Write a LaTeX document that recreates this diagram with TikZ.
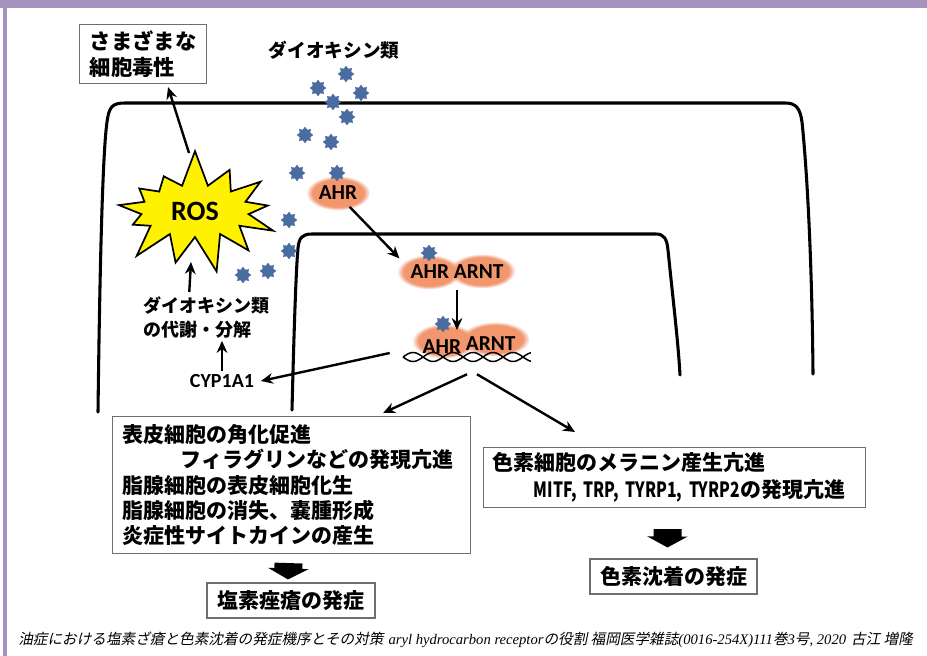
\documentclass[tikz,border=0pt]{standalone}
\usepackage{fontspec}
\usepackage{graphicx}
\newfontfamily\jpfont{Noto Sans CJK JP}
\newfontfamily\jpnarrow{Noto Sans CJK JP}[FakeStretch=0.75]
\newfontfamily\jpslant{Noto Sans CJK JP}[FakeSlant=0.2]
\newfontfamily\carlito{Carlito}
\newfontfamily\serifit{Liberation Serif}
\usetikzlibrary{arrows.meta,shapes.geometric,shapes.symbols,fadings}

\definecolor{bandpurple}{RGB}{165,146,191}
\definecolor{dioxblue}{RGB}{74,108,160}
\definecolor{ahrorange}{RGB}{242,150,110}
\definecolor{boxgray}{RGB}{110,110,110}

\tikzset{
  membrane/.style={line width=2.3pt, line cap=round},
  arr/.style={-{Stealth[length=9pt,width=8pt]}, line width=1.8pt},
  infobox/.style={draw=boxgray, line width=0.8pt, inner sep=0pt},
  dioxin/.style={star, star points=8, star point ratio=1.45, minimum size=12.5pt, inner sep=0pt, fill=dioxblue},
  glow/.style={fill=ahrorange, path fading=circle with fuzzy edge 20 percent},
  blockarr/.style={line width=21pt, -{Triangle[length=8.25pt,width=30pt]}},
  dnastrand/.style={line width=1.1pt},
  jptext/.style={font=\jpfont\bfseries\fontsize{15.75}{19.1}\selectfont},
  latin/.style={font=\carlito\bfseries\fontsize{16}{18}\selectfont, inner sep=0pt},
}

\begin{document}
\begin{tikzpicture}[x=0.75pt, y=-0.75pt]
\useasboundingbox (0,0) rectangle (927,656);
\fill[white] (0,0) rectangle (927,656);
\fill[bandpurple] (0,0) rectangle (927,8);
\fill[bandpurple] (3,8) rectangle (7,656);

% cell and nucleus
\draw[membrane] (98,412) .. controls (100,250) and (103,150) .. (107,122) .. controls (109,107) and (112,103) .. (125,103) -- (785,103) .. controls (796,103) and (800,108) .. (802,122) .. controls (807,170) and (812,260) .. (813,374);
\draw[membrane] (292,410) .. controls (294,330) and (296,270) .. (298,248) .. controls (299,238) and (302,234) .. (312,234) -- (656,234) .. controls (664,234) and (667,239) .. (668,250) .. controls (673,300) and (678,340) .. (680,375);

% orange halos
\fill[glow] (338,193) ellipse [x radius=24pt, y radius=13pt];
\fill[glow] (429,272) ellipse [x radius=24pt, y radius=13pt];
\fill[glow] (482,271) ellipse [x radius=25pt, y radius=13pt];
\fill[glow] (444,341) ellipse [x radius=24pt, y radius=13pt];
\fill[glow] (495,339) ellipse [x radius=26pt, y radius=13pt];

% DNA
\draw[dnastrand] plot[domain=403:531, samples=90, smooth] (\x, {357+4.5*sin(9*(\x-403))});
\draw[dnastrand] plot[domain=403:531, samples=90, smooth] (\x, {357-4.5*sin(9*(\x-403))});
\node[minimum width=96pt, minimum height=9pt, inner sep=0pt] (dna) at (467,357) {};

\node[infobox, minimum width=95.25pt, minimum height=44.25pt, anchor=north west, align=left, font=\jpfont\bfseries\fontsize{16}{20}\selectfont] (toxic) at (79,24) {さまざまな\\細胞毒性};
\node[font=\jpfont\bfseries\fontsize{14}{16}\selectfont] (dioxlbl) at (334,50) {ダイオキシン類};

\node[starburst, starburst points=13, starburst point height=28pt, random starburst=7, fill=yellow, draw=black, line width=1.3pt, minimum width=137pt, minimum height=95pt, font=\carlito\bfseries\fontsize{21}{24}\selectfont] (ros) at (195,211) {ROS};

\node[anchor=north west, align=left, inner sep=0pt, font=\jpfont\bfseries\fontsize{13.5}{18}\selectfont] (metab) at (143,296) {ダイオキシン類\\の代謝・分解};
\node[latin, font=\carlito\bfseries\fontsize{15}{18}\selectfont, inner sep=2pt] (cyp) at (222,381) {CYP1A1};

\node[latin, ellipse, minimum width=45pt, minimum height=22pt] (ahr) at (338,193) {AHR};
\node[latin, minimum width=86pt, minimum height=20pt] (pair1) at (457,272) {AHR ARNT};
\node[latin, minimum width=80pt, minimum height=20pt] (pair2) at (469,345) {AHR \raisebox{2pt}{ARNT}};

% dioxin molecules
\foreach \p [count=\i] in {(346,74),(318,88),(361,93),(333,102),(347,117),(305,135),(331,142),(297,173),(337,173),(289,220),(289,251),(243,275),(268,271),(429,253),(443,324)}
  \node[dioxin] (d\i) at \p {};

% effect boxes
\node[infobox, jptext, anchor=north west, minimum width=268.5pt, minimum height=102.75pt, text width=253.5pt, inner xsep=7.5pt, align=left] (skin) at (112,416) {表皮細胞の角化促進\\\hspace*{43.5pt}フィラグリンなどの発現亢進\\脂腺細胞の表皮細胞化生\\脂腺細胞の消失、嚢腫形成\\炎症性サイトカインの産生};
\node[infobox, font=\jpfont\bfseries\fontsize{15.75}{20}\selectfont, anchor=north west, minimum width=286.5pt, minimum height=45pt, text width=273pt, inner xsep=6.75pt, align=left] (pigment) at (483,447) {色素細胞のメラニン産生亢進\\\hspace*{31pt}{\jpnarrow\bfseries MITF, TRP, TYRP1, TYRP2}の発現亢進};

\node[infobox, jptext, minimum width=126pt, minimum height=26.25pt] (chlor) at (291,600.5) {塩素痤瘡の発症};
\node[infobox, jptext, minimum width=125.25pt, minimum height=26.25pt] (pigdis) at (673.5,576.5) {色素沈着の発症};

% arrows
\draw[arr] ([shift={(-6,-58)}]ros.center) -- ([shift={(25,3)}]toxic.south);
\draw[arr] ([shift={(-17,-4)}]metab.north) -- ([shift={(-4,51)}]ros.center);
\draw[arr] (cyp.north) -- ([yshift=-2pt]cyp.north |- metab.south);
\draw[arr] (ahr.-50) -- (pair1.north west);
\draw[arr] ([yshift=-3pt]pair1.south) -- ([yshift=1pt]pair1.south |- pair2.north);
\draw[arr] ([shift={(-13,-4)}]dna.west) -- ([xshift=3pt]cyp.east);
\draw[arr] ([shift={(0,11)}]dna.south) -- ([shift={(-88,-3)}]skin.north east);
\draw[arr] ([shift={(10,11)}]dna.south) -- ([shift={(92,-15)}]pigment.north west);
\draw[blockarr] ([shift={(-3,9)}]skin.south) -- ([shift={(-3,-3)}]chlor.north);
\draw[blockarr] ([shift={(-7,21)}]pigment.south) -- ([shift={(-6,-11)}]pigdis.north);

% source line
\node[anchor=west, inner sep=0pt] (footer) at (18,640) {\resizebox{671pt}{!}{\fontsize{9}{11}\selectfont{\jpslant 油症における塩素ざ瘡と色素沈着の発症機序とその対策} {\serifit\itshape aryl hydrocarbon receptor}{\jpslant の役割 福岡医学雑誌}{\serifit\itshape (0016-254X)111}{\jpslant 巻}{\serifit\itshape 3}{\jpslant 号}{\serifit\itshape, 2020} {\jpslant 古江 増隆}}};
\end{tikzpicture}
\end{document}
